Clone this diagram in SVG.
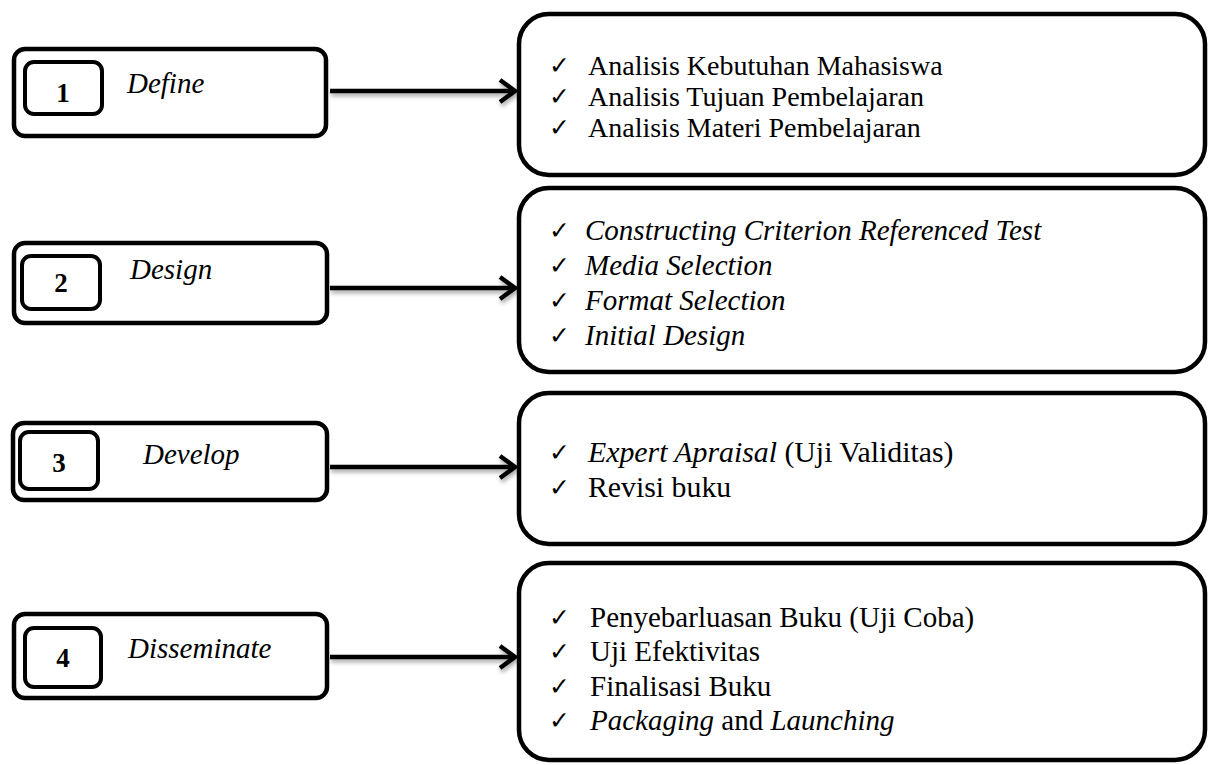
<svg xmlns="http://www.w3.org/2000/svg" width="1209" height="765" viewBox="0 0 1209 765">
<defs>
<style>
.box{fill:#fff;stroke:#000;stroke-width:4.5}
.inner{fill:#fff;stroke:#000;stroke-width:4}
.lbl{font-family:'Liberation Serif','Times New Roman',serif;font-style:italic;font-size:29px;fill:#000}
.num{font-family:'Liberation Serif','Times New Roman',serif;font-weight:bold;font-size:27px;fill:#000;text-anchor:middle}
.t{font-family:'Liberation Serif','Times New Roman',serif;font-size:29px;fill:#000}
.t1{font-size:28px}
.t3{font-size:29.8px}
.i{font-style:italic}
.ck{font-family:'DejaVu Sans',sans-serif;font-size:25px;font-weight:bold;fill:#000}
.conn line,.conn polyline{stroke:#000;stroke-width:4.5;fill:none}
</style>
<filter id="sh" x="-10%" y="-50%" width="120%" height="200%">
<feDropShadow dx="1" dy="3" stdDeviation="2" flood-color="#000" flood-opacity="0.35"/>
</filter>
</defs>
<rect width="1209" height="765" fill="#fff"/>

<g id="connectors" class="conn" filter="url(#sh)">
<line x1="330" y1="91" x2="514" y2="91"/>
<polyline points="500,80 515,91 500,102"/>
<line x1="330" y1="288" x2="514" y2="288"/>
<polyline points="500,277 515,288 500,299"/>
<line x1="330" y1="467" x2="514" y2="467"/>
<polyline points="500,456 515,467 500,478"/>
<line x1="330" y1="657" x2="514" y2="657"/>
<polyline points="500,646 515,657 500,668"/>
</g>

<g id="step1">
<rect class="box" x="14" y="49" width="312" height="87" rx="11"/>
<rect class="inner" x="25" y="62" width="77" height="52" rx="9"/>
<text class="num" x="63" y="102">1</text>
<text class="lbl" x="127" y="93">Define</text>
</g>
<g id="step2">
<rect class="box" x="14" y="243" width="313" height="80" rx="11"/>
<rect class="inner" x="22" y="256" width="78" height="53" rx="9"/>
<text class="num" x="61" y="292">2</text>
<text class="lbl" x="130" y="279">Design</text>
</g>
<g id="step3">
<rect class="box" x="13" y="423" width="314" height="77" rx="11"/>
<rect class="inner" x="20" y="432" width="78" height="57" rx="9"/>
<text class="num" x="59" y="472">3</text>
<text class="lbl" x="143" y="464">Develop</text>
</g>
<g id="step4">
<rect class="box" x="14" y="614" width="313" height="84" rx="11"/>
<rect class="inner" x="25" y="628" width="76" height="59" rx="9"/>
<text class="num" x="63" y="667">4</text>
<text class="lbl" x="128" y="658">Disseminate</text>
</g>

<g id="detail1">
<rect class="box" x="519" y="14" width="686" height="161" rx="30"/>
<text class="ck" x="549" y="74">✓</text>
<text class="ck" x="549" y="105">✓</text>
<text class="ck" x="549" y="136">✓</text>
<text class="t t1" x="588" y="75">Analisis Kebutuhan Mahasiswa</text>
<text class="t t1" x="588" y="106">Analisis Tujuan Pembelajaran</text>
<text class="t t1" x="588" y="137">Analisis Materi Pembelajaran</text>
</g>
<g id="detail2">
<rect class="box" x="519" y="188" width="686" height="184" rx="30"/>
<text class="ck" x="549" y="239">✓</text>
<text class="ck" x="549" y="274">✓</text>
<text class="ck" x="549" y="309">✓</text>
<text class="ck" x="549" y="344">✓</text>
<text class="t i" x="585" y="240">Constructing Criterion Referenced Test</text>
<text class="t i" x="585" y="275">Media Selection</text>
<text class="t i" x="585" y="310">Format Selection</text>
<text class="t i" x="585" y="345">Initial Design</text>
</g>
<g id="detail3">
<rect class="box" x="519" y="393" width="686" height="151" rx="30"/>
<text class="ck" x="549" y="461">✓</text>
<text class="ck" x="549" y="496">✓</text>
<text class="t t3" x="588" y="462"><tspan class="i">Expert Apraisal</tspan> (Uji Validitas)</text>
<text class="t t3" x="588" y="497">Revisi buku</text>
</g>
<g id="detail4">
<rect class="box" x="519" y="563" width="686" height="197" rx="30"/>
<text class="ck" x="549" y="626">✓</text>
<text class="ck" x="549" y="660">✓</text>
<text class="ck" x="549" y="695">✓</text>
<text class="ck" x="549" y="729">✓</text>
<text class="t" x="590" y="627">Penyebarluasan Buku (Uji Coba)</text>
<text class="t" x="590" y="661">Uji Efektivitas</text>
<text class="t" x="590" y="696">Finalisasi Buku</text>
<text class="t" x="590" y="730"><tspan class="i">Packaging</tspan> and <tspan class="i">Launching</tspan></text>
</g>
</svg>
